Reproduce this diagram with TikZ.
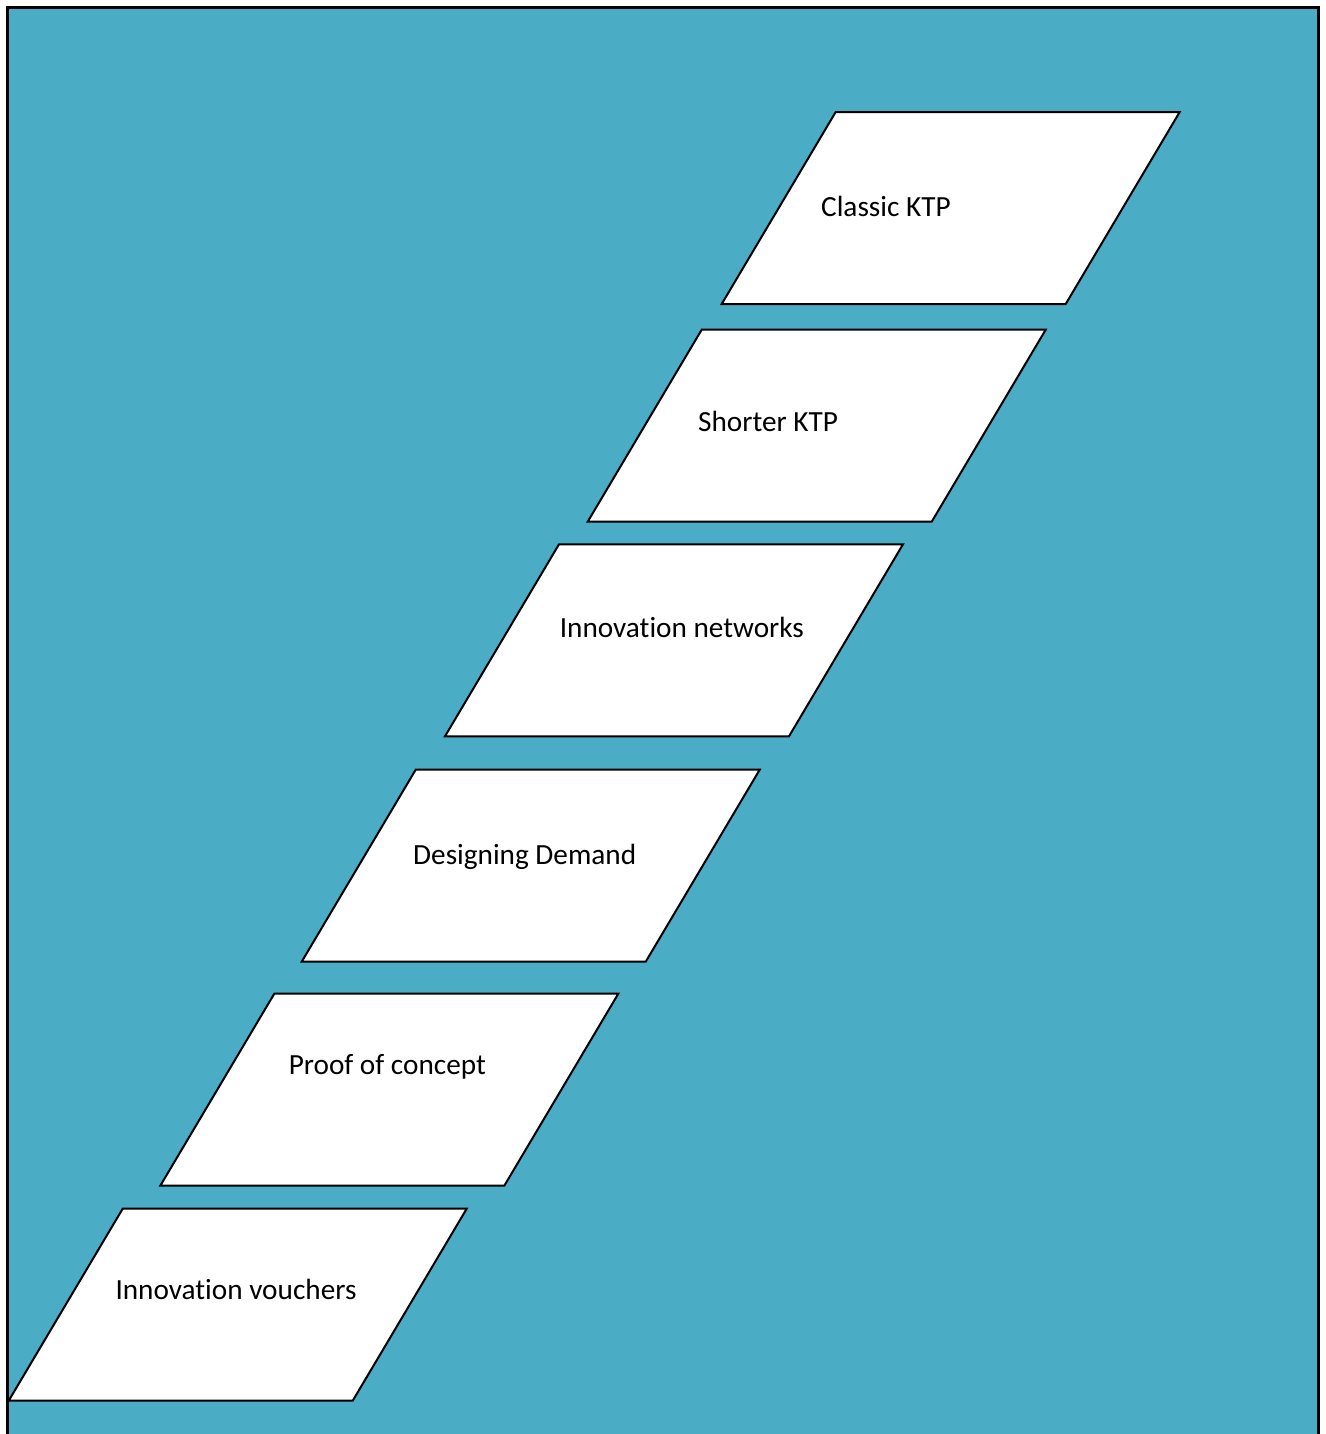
\documentclass[tikz,border=0pt]{standalone}
\usepackage{fontspec}
\setmainfont[Ligatures=NoCommon]{Carlito}
\usepackage{xcolor}
\usetikzlibrary{positioning}
\definecolor{aqua}{RGB}{75,172,198}

\begin{document}
\begin{tikzpicture}[
  x=0.4pt,y=-0.4pt,
  frame/.style={draw=black,line width=1.2pt,fill=aqua},
  para/.style={draw=black,line width=0.8pt,fill=white,line join=miter},
  lbl/.style={anchor=base west,inner sep=0pt,font=\fontsize{11.7}{14}\selectfont}
]
\useasboundingbox (0,0) rectangle (1326,1434);
\clip (0,0) rectangle (1326,1434);

% Background panel
\fill[white] (0,0) rectangle (1326,1434);
\draw[frame] (7,7) rectangle (1318,1450);

% Corners (bottom left of each step)
\coordinate (ktp) at (721.7,304);
\coordinate (short) at (587.7,521.7);
\coordinate (net) at (445,736.3);
\coordinate (demand) at (301.7,961.7);
\coordinate (proof) at (160.3,1185.7);
\coordinate (voucher) at (8.7,1400.7);

% Steps
\draw[para] (ktp) -- ++(114,-192) -- ++(344,0) -- ++(-114,192) -- cycle;
\draw[para] (short) -- ++(114,-192) -- ++(344,0) -- ++(-114,192) -- cycle;
\draw[para] (net) -- ++(114,-192) -- ++(344,0) -- ++(-114,192) -- cycle;
\draw[para] (demand) -- ++(114,-192) -- ++(344,0) -- ++(-114,192) -- cycle;
\draw[para] (proof) -- ++(114,-192) -- ++(344,0) -- ++(-114,192) -- cycle;
\draw[para] (voucher) -- ++(114,-192) -- ++(344,0) -- ++(-114,192) -- cycle;

% Labels
\node[lbl] (ktptext) at (820.7,216.7) {Classic KTP};
\node[lbl] (shorttext) at (697.7,431) {Shorter KTP};
\node[lbl] (nettext) at (559.3,637.7) {Innovation networks};
\node[lbl] (demandtext) at (412.7,864) {Designing Demand};
\node[lbl] (prooftext) at (288.3,1074) {Proof of concept};
\node[lbl] (vouchertext) at (115,1299.3) {Innovation vouchers};
\end{tikzpicture}
\end{document}
